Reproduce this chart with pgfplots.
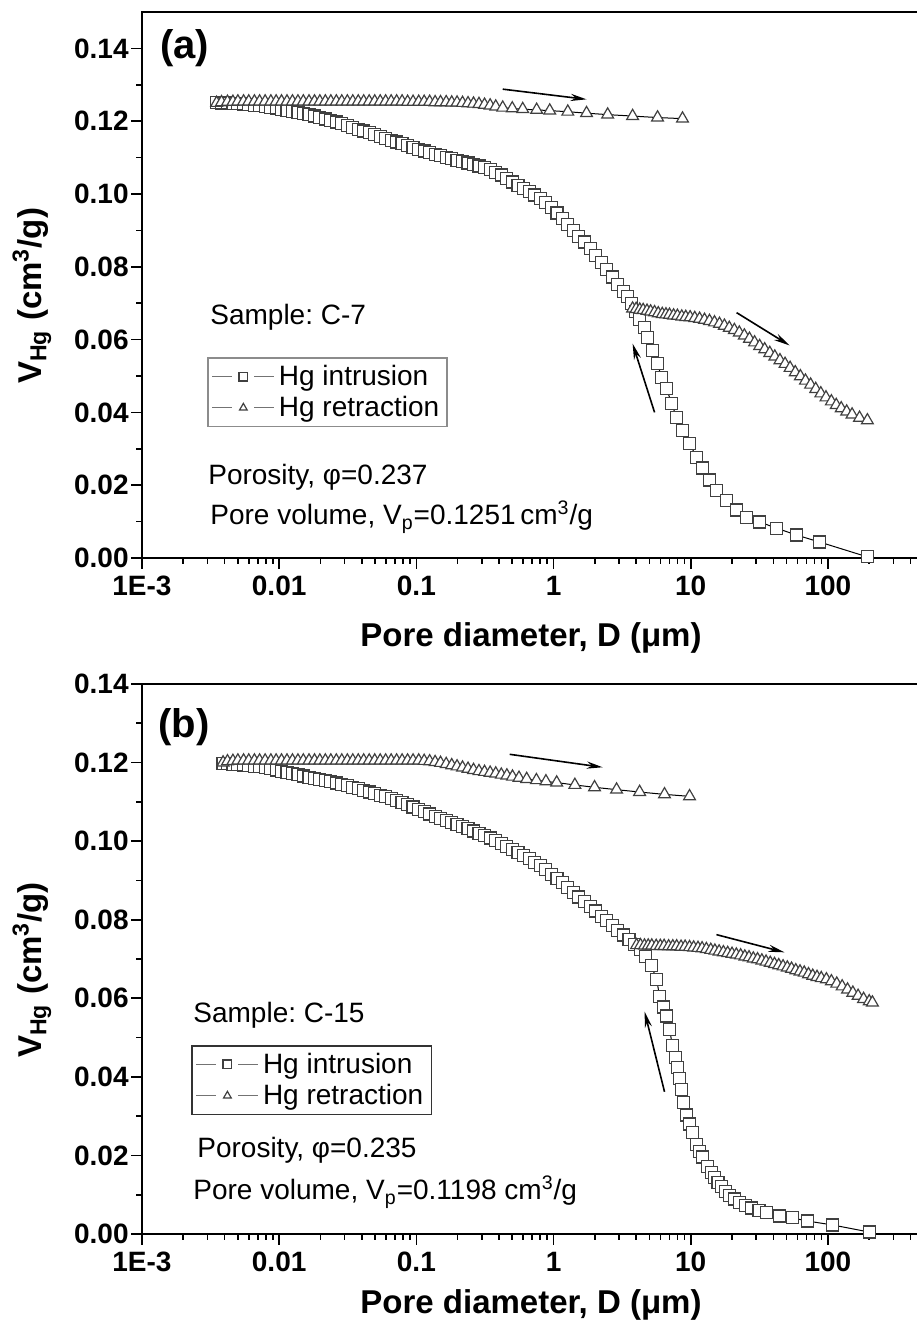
\documentclass[border=0pt]{standalone}
\usepackage{fontspec}
\setmainfont{Liberation Sans}
\usepackage{pgfplots}
\pgfplotsset{compat=1.18}
\usetikzlibrary{arrows.meta}
\frenchspacing

\newcommand{\txt}{\fontsize{14}{16}\selectfont}

\pgfplotsset{
  legend image code/.code={
    \draw[black!55, line width=0.6pt] (0pt,0pt) -- (10pt,0pt) (21pt,0pt) -- (31pt,0pt);
    \draw[#1, mark size=2.2pt] plot coordinates {(15.5pt,0pt)};
  },
  every axis/.append style={
    scale only axis, width=389pt, xmin=0.001, xmax=469, ymin=0,
    tick pos=left, tick align=outside,
    xtick={0.001,0.01,0.1,1,10,100},
    xticklabels={1E-3,0.01,0.1,1,10,100},
    minor xtick={0.002,0.003,0.004,0.005,0.006,0.007,0.008,0.009,
                 0.02,0.03,0.04,0.05,0.06,0.07,0.08,0.09,
                 0.2,0.3,0.4,0.5,0.6,0.7,0.8,0.9,
                 2,3,4,5,6,7,8,9,20,30,40,50,60,70,80,90,200,300,400},
    ytick={0,0.02,0.04,0.06,0.08,0.10,0.12,0.14},
    minor ytick={0.01,0.03,0.05,0.07,0.09,0.11,0.13},
    scaled y ticks=false,
    ticklabel style={font=\bfseries\fontsize{14}{16}\selectfont, inner sep=1pt},
    xticklabel style={yshift=-2.5pt},
    major tick length=5.5pt, minor tick length=3pt,
    every tick/.append style={black, line width=0.8pt},
    axis line style={line width=1pt},
    label style={font=\bfseries\fontsize{16.5}{18}\selectfont},
    legend cell align=left,
  },
}
\tikzset{
  intr/.style={black, line width=0.5pt, mark=square*, mark size=3pt,
    mark options={draw=black!75, fill=white, line width=0.6pt, solid}},
  retr/.style={black, line width=0.5pt, mark=triangle*, mark size=3.4pt,
    mark options={draw=black!75, fill=white, line width=0.6pt, solid}},
  arr/.style={-{Stealth[length=8pt,width=3.6pt]}, black, line width=0.8pt},
}

\begin{document}
\begin{tikzpicture}
\path[use as bounding box] (0,0) rectangle (458pt,661pt);

% ---------------- (a) C-7 ----------------
\begin{semilogxaxis}[at={(71pt,382pt)}, anchor=south west, height=273pt, ymax=0.15,
  yticklabel style={/pgf/number format/fixed, /pgf/number format/fixed zerofill, /pgf/number format/precision=2, /pgf/number format/assume math mode=true},
  xlabel={Pore diameter, D (μm)},
  ylabel={V\textsubscript{Hg} (cm\textsuperscript{3}/g)},
  ylabel style={at={(rel axis cs:0,0.48)}, yshift=55pt, anchor=center},
  xlabel style={at={(rel axis cs:0.5,0)}, yshift=-40pt, anchor=center},
  legend style={draw=black!45, line width=0.8pt, font=\txt, at={(0.0835,0.368)}, anchor=north west, inner xsep=2pt, inner ysep=1.5pt}]
\addplot[intr] coordinates {
(0.0035,0.1251)(0.0038,0.1250)(0.0042,0.1250)(0.0046,0.1249)(0.0050,0.1248)(0.0055,0.1247)
(0.0060,0.1246)(0.0066,0.1244)(0.0072,0.1242)(0.0079,0.1240)(0.0087,0.1238)(0.0095,0.1236)
(0.0104,0.1233)(0.0114,0.1230)(0.0125,0.1227)(0.0137,0.1224)(0.0150,0.1221)(0.0165,0.1218)
(0.0181,0.1214)(0.0198,0.1210)(0.0217,0.1206)(0.0238,0.1202)(0.0261,0.1198)(0.0286,0.1193)
(0.0314,0.1188)(0.0344,0.1183)(0.0377,0.1178)(0.0413,0.1173)(0.0453,0.1168)(0.0497,0.1163)
(0.0545,0.1158)(0.0597,0.1153)(0.0655,0.1148)(0.0718,0.1143)(0.0787,0.1138)(0.0863,0.1133)
(0.0946,0.1128)(0.104,0.1123)(0.114,0.1118)(0.125,0.1113)(0.137,0.1109)(0.150,0.1105)
(0.165,0.1101)(0.181,0.1097)(0.198,0.1093)(0.217,0.1089)(0.238,0.1085)(0.261,0.1081)
(0.286,0.1077)(0.314,0.1073)(0.345,0.1067)(0.379,0.1060)(0.416,0.1052)(0.457,0.1043)
(0.502,0.1033)(0.551,0.1024)(0.605,0.1015)(0.664,0.1006)(0.729,0.0997)(0.800,0.0987)
(0.878,0.0976)(0.964,0.0963)(1.06,0.0948)(1.16,0.0932)(1.27,0.0916)(1.40,0.0900)
(1.53,0.0884)(1.68,0.0868)(1.85,0.0850)(2.03,0.0832)(2.23,0.0812)(2.44,0.0792)
(2.68,0.0772)(2.94,0.0752)(3.23,0.0733)(3.47,0.0718)(3.70,0.0700)(3.95,0.0678)
(4.24,0.0655)(4.61,0.0633)(4.84,0.0606)(5.27,0.0570)(5.73,0.0534)(6.12,0.0496)
(6.66,0.0466)(7.25,0.0425)(7.88,0.0386)(8.71,0.0351)(9.80,0.0315)(11.0,0.0277)
(12.2,0.0247)(13.7,0.0214)(15.4,0.0186)(18.2,0.0159)(21.6,0.0132)(25.5,0.0112)
(31.7,0.0099)(42.2,0.0082)(59.0,0.0063)(86.7,0.0044)(194,0.0003)
};
\addlegendentry{Hg intrusion}
\addplot[retr] coordinates {
(0.0035,0.1250)(0.0038,0.1252)(0.0042,0.1253)(0.0046,0.1253)(0.0050,0.1254)(0.0055,0.1254)
(0.0060,0.1254)(0.0066,0.1254)(0.0072,0.1254)(0.0079,0.1254)(0.0087,0.1254)(0.0095,0.1254)
(0.0104,0.1254)(0.0114,0.1254)(0.0125,0.1254)(0.0137,0.1254)(0.0150,0.1254)(0.0165,0.1254)
(0.0181,0.1254)(0.0198,0.1254)(0.0217,0.1254)(0.0238,0.1254)(0.0261,0.1254)(0.0286,0.1254)
(0.0314,0.1254)(0.0344,0.1254)(0.0377,0.1254)(0.0413,0.1254)(0.0453,0.1254)(0.0497,0.1254)
(0.0545,0.1254)(0.0597,0.1254)(0.0655,0.1254)(0.0718,0.1254)(0.0787,0.1254)(0.0863,0.1253)
(0.0946,0.1253)(0.104,0.1253)(0.114,0.1253)(0.125,0.1253)(0.137,0.1252)(0.150,0.1252)
(0.165,0.1252)(0.181,0.1251)(0.198,0.1251)(0.217,0.1250)(0.238,0.1249)(0.261,0.1248)
(0.286,0.1247)(0.314,0.1245)(0.345,0.1243)(0.379,0.1240)(0.426,0.1237)(0.50,0.1235)
(0.596,0.1233)(0.753,0.1231)(0.938,0.1229)(1.27,0.1226)(1.74,0.1222)(2.48,0.1218)
(3.77,0.1214)(5.73,0.1210)(8.71,0.1207)
};
\addlegendentry{Hg retraction\hspace{7pt}}
\addplot[retr, forget plot] coordinates {
(3.77,0.0685)(4.0,0.0684)(4.25,0.0682)(4.5,0.0681)(4.8,0.0679)(5.1,0.0677)(5.45,0.0675)
(5.8,0.0672)(6.2,0.0670)(6.6,0.0669)(7.0,0.0668)(7.5,0.0666)(8.0,0.0665)(8.6,0.0663)
(9.2,0.0662)(9.9,0.0661)(10.7,0.0659)(11.6,0.0657)(12.6,0.0654)(13.7,0.0651)(14.9,0.0647)
(16.2,0.0643)(17.6,0.0638)(19.1,0.0632)(20.8,0.0626)(22.6,0.0619)(24.6,0.0611)(26.8,0.0602)
(29.2,0.0592)(31.8,0.0582)(34.6,0.0573)(37.7,0.0563)(41.0,0.0553)(44.7,0.0543)(48.7,0.0533)
(53.0,0.0522)(57.8,0.0510)(63.0,0.0499)(68.6,0.0487)(74.8,0.0476)(81.5,0.0464)(88.8,0.0452)
(96.8,0.0441)(106,0.0430)(115,0.0420)(125,0.0411)(137,0.0402)(150,0.0394)(170,0.0385)
(194,0.0378)
};
\draw[arr] (axis cs:0.426,0.1288) -- (axis cs:1.74,0.1260);
\draw[arr] (axis cs:21.6,0.0674) -- (axis cs:52.5,0.0584);
\draw[arr] (axis cs:5.45,0.0400) -- (axis cs:3.77,0.0589);
\node[anchor=west, font=\bfseries\fontsize{20}{22}\selectfont, inner sep=0pt] at (rel axis cs:0.023,0.934) {(a)};
\node[anchor=west, font=\txt, inner sep=0pt] at (rel axis cs:0.0874,0.440) {Sample: C-7};
\node[anchor=west, font=\txt, inner sep=0pt] at (rel axis cs:0.0848,0.148) {Porosity, φ=0.237};
\node[anchor=west, font=\txt, inner sep=0pt] at (rel axis cs:0.0874,0.075) {Pore volume, V\textsubscript{p}=0.1251\,cm\textsuperscript{3}/g};
\end{semilogxaxis}

% ---------------- (b) C-15 ----------------
\begin{semilogxaxis}[at={(71pt,44pt)}, anchor=south west, height=275pt, ymax=0.14,
  yticklabel style={/pgf/number format/fixed, /pgf/number format/fixed zerofill, /pgf/number format/precision=2, /pgf/number format/assume math mode=true},
  xlabel={Pore diameter, D (μm)},
  ylabel={V\textsubscript{Hg} (cm\textsuperscript{3}/g)},
  ylabel style={at={(rel axis cs:0,0.48)}, yshift=55pt, anchor=center},
  xlabel style={at={(rel axis cs:0.5,0)}, yshift=-35.5pt, anchor=center},
  legend style={draw=black!80, line width=0.8pt, font=\txt, at={(0.063,0.3436)}, anchor=north west, inner xsep=2pt, inner ysep=1.5pt}]
\addplot[intr] coordinates {
(0.0039,0.1198)(0.0042,0.1197)(0.0046,0.1196)(0.0050,0.1195)(0.0055,0.1194)(0.0060,0.1193)
(0.0066,0.1191)(0.0072,0.1189)(0.0079,0.1187)(0.0087,0.1184)(0.0095,0.1181)(0.0104,0.1178)
(0.0114,0.1175)(0.0125,0.1172)(0.0137,0.1169)(0.0150,0.1166)(0.0165,0.1163)(0.0181,0.1160)
(0.0198,0.1157)(0.0217,0.1154)(0.0238,0.1151)(0.0261,0.1148)(0.0286,0.1145)(0.0314,0.1141)
(0.0344,0.1137)(0.0377,0.1133)(0.0413,0.1129)(0.0453,0.1125)(0.0497,0.1121)(0.0545,0.1117)
(0.0597,0.1113)(0.0655,0.1108)(0.0718,0.1103)(0.0787,0.1098)(0.0863,0.1093)(0.0946,0.1087)
(0.104,0.1081)(0.114,0.1075)(0.125,0.1069)(0.137,0.1063)(0.150,0.1058)(0.165,0.1053)
(0.181,0.1048)(0.198,0.1043)(0.217,0.1038)(0.238,0.1032)(0.261,0.1026)(0.286,0.1020)
(0.314,0.1014)(0.345,0.1008)(0.379,0.1001)(0.416,0.0994)(0.457,0.0987)(0.502,0.0979)
(0.551,0.0971)(0.605,0.0963)(0.664,0.0955)(0.729,0.0946)(0.800,0.0937)(0.878,0.0927)
(0.964,0.0916)(1.06,0.0905)(1.16,0.0894)(1.27,0.0882)(1.40,0.0870)(1.53,0.0858)
(1.68,0.0846)(1.85,0.0834)(2.03,0.0822)(2.23,0.0809)(2.44,0.0797)(2.68,0.0785)
(2.94,0.0773)(3.23,0.0761)(3.55,0.0749)(3.90,0.0737)(4.28,0.0724)(4.70,0.0706)
(5.15,0.0684)(5.64,0.0648)(5.93,0.0605)(6.30,0.0578)(6.66,0.0555)(7.01,0.0520)
(7.36,0.0480)(7.70,0.0450)(8.02,0.0423)(8.30,0.0395)(8.57,0.0367)(8.90,0.0335)
(9.31,0.0303)(9.80,0.0280)(10.3,0.0258)(11.0,0.0227)(11.6,0.0210)(12.2,0.0196)
(13.3,0.0171)(14.1,0.0157)(14.9,0.0143)(15.8,0.0131)(16.8,0.0120)(17.9,0.0109)
(19.2,0.0099)(20.8,0.0089)(22.7,0.0080)(25.0,0.0072)(27.7,0.0066)(31.4,0.0060)
(35.6,0.0054)(44.4,0.0046)(55.1,0.0041)(71.0,0.0033)(108,0.0023)(200,0.0005)
};
\addlegendentry{Hg intrusion}
\addplot[retr] coordinates {
(0.0039,0.1200)(0.0042,0.1203)(0.0046,0.1204)(0.0050,0.1205)(0.0055,0.1205)(0.0060,0.1205)
(0.0066,0.1205)(0.0072,0.1205)(0.0079,0.1205)(0.0087,0.1205)(0.0095,0.1205)(0.0104,0.1205)
(0.0114,0.1205)(0.0125,0.1205)(0.0137,0.1205)(0.0150,0.1205)(0.0165,0.1205)(0.0181,0.1205)
(0.0198,0.1205)(0.0217,0.1205)(0.0238,0.1205)(0.0261,0.1205)(0.0286,0.1205)(0.0314,0.1205)
(0.0344,0.1205)(0.0377,0.1205)(0.0413,0.1205)(0.0453,0.1205)(0.0497,0.1205)(0.0545,0.1205)
(0.0597,0.1205)(0.0655,0.1205)(0.0718,0.1205)(0.0787,0.1205)(0.0863,0.1205)(0.0946,0.1205)
(0.104,0.1205)(0.114,0.1204)(0.125,0.1203)(0.137,0.1201)(0.150,0.1199)(0.165,0.1196)
(0.181,0.1193)(0.198,0.1190)(0.217,0.1187)(0.238,0.1184)(0.261,0.1181)(0.286,0.1178)
(0.314,0.1176)(0.345,0.1174)(0.379,0.1172)(0.416,0.1169)(0.457,0.1167)(0.502,0.1164)
(0.56,0.1161)(0.637,0.1158)(0.75,0.1155)(0.88,0.1152)(1.054,0.1149)(1.43,0.1143)
(1.99,0.1137)(2.88,0.1131)(4.24,0.1125)(6.44,0.1119)(9.8,0.1114)
};
\addlegendentry{Hg retraction\hspace{7pt}}
\addplot[retr, forget plot] coordinates {
(4.03,0.0735)(4.3,0.0735)(4.6,0.0734)(4.9,0.0734)(5.2,0.0734)(5.6,0.0733)(6.0,0.0733)
(6.4,0.0733)(6.9,0.0732)(7.4,0.0732)(7.9,0.0732)(8.5,0.0731)(9.1,0.0731)(9.8,0.0730)
(10.5,0.0729)(11.3,0.0728)(12.1,0.0727)(13.0,0.0725)(14.0,0.0723)(15.0,0.0721)(16.1,0.0719)
(17.3,0.0717)(18.6,0.0715)(20.0,0.0713)(21.5,0.0711)(23.1,0.0709)(24.8,0.0706)(26.6,0.0704)
(28.6,0.0701)(30.7,0.0699)(33.0,0.0696)(35.4,0.0693)(38.0,0.0690)(40.8,0.0687)(43.8,0.0684)
(47.1,0.0681)(50.6,0.0678)(54.3,0.0675)(58.3,0.0671)(62.6,0.0668)(67.2,0.0665)(72.2,0.0661)
(77.5,0.0657)(83.3,0.0654)(89.4,0.0651)(97.5,0.0648)(106,0.0643)(116,0.0637)(127,0.0630)
(139,0.0622)(152,0.0614)(166,0.0606)(182,0.0598)(200,0.0592)(211,0.0589)
};
\draw[arr] (axis cs:0.479,0.1221) -- (axis cs:2.28,0.1188);
\draw[arr] (axis cs:15.4,0.0762) -- (axis cs:48.2,0.0717);
\draw[arr] (axis cs:6.44,0.0362) -- (axis cs:4.61,0.0566);
\node[anchor=west, font=\bfseries\fontsize{20}{22}\selectfont, inner sep=0pt] at (rel axis cs:0.0206,0.922) {(b)};
\node[anchor=west, font=\txt, inner sep=0pt] at (rel axis cs:0.0656,0.398) {Sample: C-15};
\node[anchor=west, font=\txt, inner sep=0pt] at (rel axis cs:0.0707,0.153) {Porosity, φ=0.235};
\node[anchor=west, font=\txt, inner sep=0pt] at (rel axis cs:0.0656,0.0764) {Pore volume, V\textsubscript{p}=0.1198 cm\textsuperscript{3}/g};
\end{semilogxaxis}
\end{tikzpicture}
\end{document}
